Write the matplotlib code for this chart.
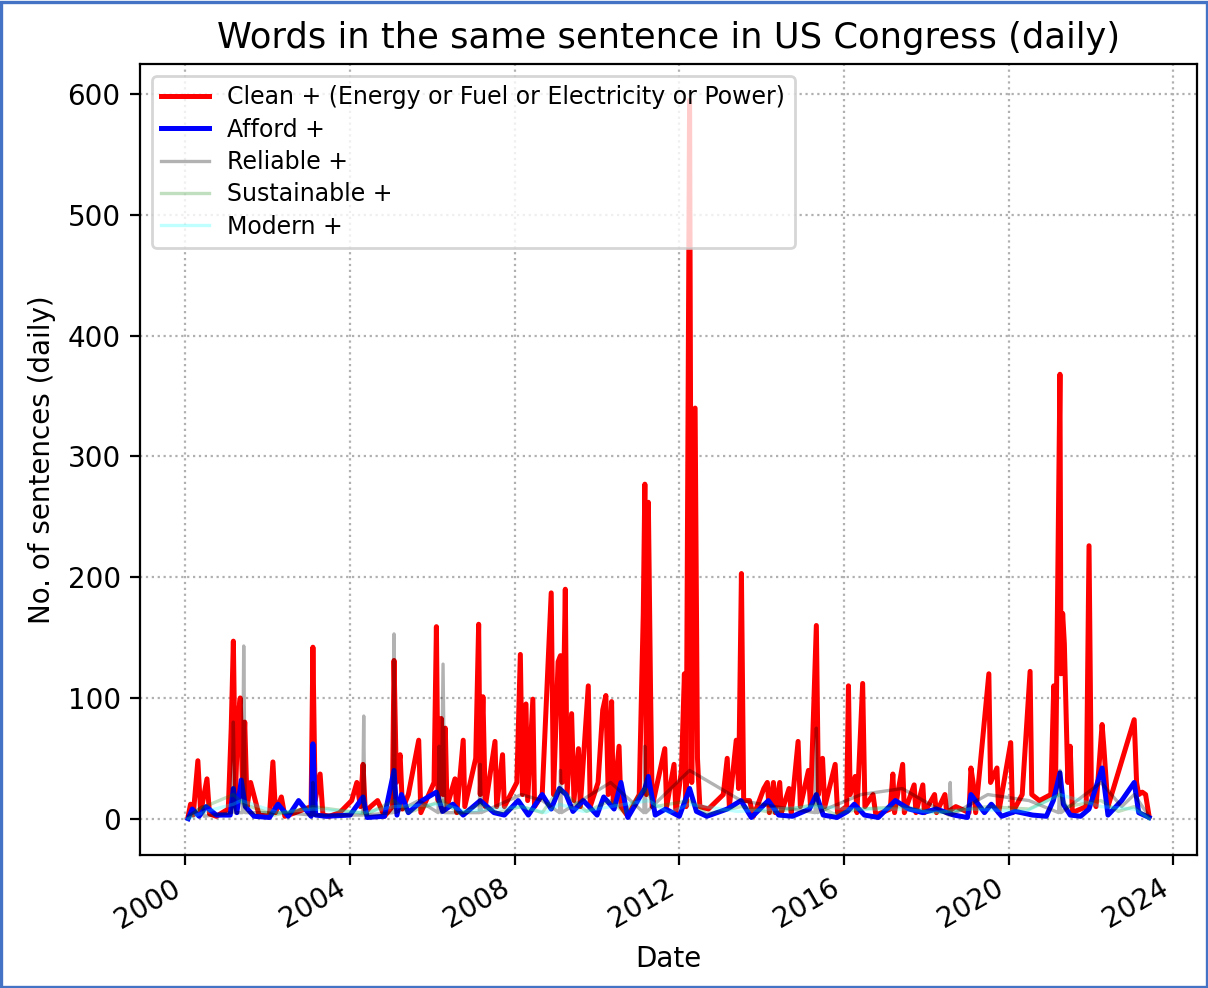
import matplotlib
matplotlib.use("Agg")
import matplotlib.pyplot as plt
import matplotlib.patches as patches
import pandas as pd

# Clean + (Energy or Fuel or Electricity or Power)
clean_dates = [
    "2000-01-25", "2000-02-15", "2000-03-10", "2000-04-20", "2000-05-15", "2000-07-10", "2000-08-01",
    "2000-10-01", "2001-01-15", "2001-02-10", "2001-03-01", "2001-03-20", "2001-04-10", "2001-05-01",
    "2001-05-20", "2001-06-10", "2001-07-01", "2001-08-01", "2001-10-15", "2002-01-15", "2002-02-15",
    "2002-03-10", "2002-05-01", "2002-06-01", "2002-09-01", "2003-01-20", "2003-02-05", "2003-02-25",
    "2003-04-10", "2003-05-05", "2003-07-01", "2003-10-01", "2004-01-15", "2004-03-01", "2004-04-01",
    "2004-04-25", "2004-05-15", "2004-07-01", "2004-09-01", "2004-11-01", "2005-01-10", "2005-01-25",
    "2005-02-15", "2005-03-20", "2005-04-10", "2005-06-01", "2005-09-01", "2005-09-20", "2006-01-15",
    "2006-02-05", "2006-02-20", "2006-03-20", "2006-04-05", "2006-04-25", "2006-05-10", "2006-07-20",
    "2006-08-05", "2006-10-01", "2006-10-15", "2007-01-20", "2007-02-15", "2007-03-01", "2007-03-25",
    "2007-04-15", "2007-07-10", "2007-07-25", "2007-09-15", "2007-10-01", "2008-01-20", "2008-02-20",
    "2008-03-10", "2008-04-10", "2008-04-25", "2008-06-10", "2008-06-25", "2008-09-01", "2008-11-20",
    "2008-12-10", "2009-01-20", "2009-02-10", "2009-02-25", "2009-03-25", "2009-04-10", "2009-05-20",
    "2009-06-10", "2009-07-20", "2009-08-05", "2009-10-15", "2009-11-01", "2010-01-10", "2010-02-20",
    "2010-03-20", "2010-04-10", "2010-05-10", "2010-05-25", "2010-07-15", "2010-08-01", "2010-10-01",
    "2011-01-10", "2011-02-15", "2011-03-01", "2011-03-15", "2011-04-01", "2011-04-20", "2011-05-05",
    "2011-08-25", "2011-09-10", "2011-11-15", "2011-12-01", "2012-01-20", "2012-02-15", "2012-03-01",
    "2012-04-01", "2012-04-20", "2012-05-20", "2012-06-10", "2012-07-01", "2012-09-15", "2013-01-25",
    "2013-03-01", "2013-03-20", "2013-05-20", "2013-06-10", "2013-07-05", "2013-07-25", "2013-09-15",
    "2013-10-20", "2014-01-20", "2014-02-20", "2014-03-10", "2014-04-15", "2014-05-01", "2014-06-10",
    "2014-06-25", "2014-09-01", "2014-09-20", "2014-11-20", "2014-12-10", "2015-02-20", "2015-03-10",
    "2015-05-01", "2015-05-20", "2015-06-25", "2015-07-15", "2015-10-15", "2015-11-05", "2016-01-25",
    "2016-02-10", "2016-02-25", "2016-04-10", "2016-04-25", "2016-06-15", "2016-07-05", "2016-09-15",
    "2016-10-10", "2017-02-15", "2017-03-10", "2017-03-25", "2017-06-05", "2017-06-20", "2017-09-15",
    "2017-10-01", "2017-12-01", "2017-12-15", "2018-03-15", "2018-04-01", "2018-06-15", "2018-07-01",
    "2018-09-20", "2019-01-15", "2019-02-01", "2019-02-20", "2019-03-15", "2019-07-10", "2019-07-25",
    "2019-09-20", "2019-10-05", "2020-01-20", "2020-02-05", "2020-05-01", "2020-07-10", "2020-07-25",
    "2020-10-01", "2021-01-10", "2021-02-05", "2021-02-20", "2021-04-01", "2021-04-10", "2021-04-25",
    "2021-05-10", "2021-05-25", "2021-06-10", "2021-07-01", "2021-07-20", "2021-11-20", "2021-12-15",
    "2022-01-05", "2022-02-15", "2022-04-10", "2022-04-25", "2022-06-01", "2023-01-20", "2023-02-10",
    "2023-03-01", "2023-04-01", "2023-05-01", "2023-06-01",
]
clean_vals = [
    2, 12, 3, 48, 5, 33, 4,
    2, 8, 75, 147, 20, 82, 100,
    30, 80, 10, 30, 3, 2, 47,
    5, 18, 2, 5, 10, 142, 15,
    37, 3, 2, 5, 15, 30, 10,
    45, 5, 10, 15, 2, 10, 131,
    30, 53, 8, 20, 65, 5, 30,
    159, 15, 83, 20, 75, 10, 33,
    5, 65, 10, 50, 161, 20, 101,
    10, 64, 10, 53, 10, 30, 136,
    20, 95, 15, 99, 10, 20, 187,
    20, 130, 135, 30, 190, 20, 87,
    15, 58, 10, 110, 10, 30, 90,
    102, 20, 97, 10, 60, 10, 2,
    20, 170, 277, 20, 262, 110, 10,
    58, 10, 45, 5, 40, 120, 10,
    595, 30, 340, 50, 10, 8, 20,
    50, 10, 65, 25, 203, 15, 15,
    2, 25, 30, 5, 30, 5, 30,
    5, 25, 5, 64, 10, 40, 10,
    160, 20, 50, 10, 45, 5, 10,
    110, 20, 35, 5, 112, 10, 20,
    3, 8, 37, 5, 45, 5, 28,
    5, 28, 5, 20, 5, 20, 5,
    10, 5, 42, 30, 5, 120, 30,
    42, 5, 63, 5, 20, 122, 20,
    15, 20, 110, 20, 368, 120, 170,
    145, 88, 30, 60, 5, 10, 226,
    20, 10, 78, 60, 10, 82, 30,
    20, 22, 20, 2,
]

# Afford +
afford_dates = [
    "2000-01-25", "2000-03-01", "2000-05-01", "2000-07-01", "2000-10-01", "2001-02-01", "2001-03-01",
    "2001-04-01", "2001-05-10", "2001-06-15", "2001-09-01", "2002-01-15", "2002-04-01", "2002-07-01",
    "2002-10-01", "2003-01-20", "2003-02-05", "2003-03-01", "2003-06-01", "2004-01-01", "2004-04-25",
    "2004-06-01", "2004-11-01", "2005-01-25", "2005-02-20", "2005-04-01", "2005-06-01", "2005-10-01",
    "2006-02-05", "2006-04-01", "2006-07-01", "2006-10-01", "2007-03-01", "2007-07-01", "2007-10-01",
    "2008-02-01", "2008-05-01", "2008-09-01", "2008-11-20", "2009-02-01", "2009-04-01", "2009-06-01",
    "2009-09-01", "2010-01-01", "2010-03-01", "2010-06-01", "2010-08-01", "2010-10-01", "2011-03-01",
    "2011-04-01", "2011-06-01", "2011-09-01", "2012-01-01", "2012-04-01", "2012-06-01", "2012-09-01",
    "2013-03-01", "2013-07-01", "2013-10-01", "2014-03-01", "2014-06-01", "2014-10-01", "2015-03-01",
    "2015-05-01", "2015-07-01", "2015-11-01", "2016-02-01", "2016-04-01", "2016-07-01", "2016-11-01",
    "2017-04-01", "2017-08-01", "2017-12-01", "2018-04-01", "2018-09-01", "2019-01-01", "2019-02-01",
    "2019-06-01", "2019-08-01", "2019-11-01", "2020-03-01", "2020-08-01", "2020-12-01", "2021-02-01",
    "2021-04-01", "2021-05-01", "2021-07-01", "2021-10-01", "2021-12-15", "2022-04-10", "2022-06-01",
    "2022-10-01", "2023-01-20", "2023-03-01", "2023-06-01",
]
afford_vals = [
    0, 8, 2, 10, 3, 3, 25,
    5, 32, 10, 2, 1, 12, 2,
    15, 2, 62, 3, 2, 3, 18,
    1, 2, 40, 3, 20, 5, 15,
    22, 6, 12, 3, 15, 5, 3,
    15, 3, 20, 8, 25, 20, 6,
    15, 3, 18, 8, 30, 1, 25,
    35, 3, 8, 2, 25, 6, 2,
    8, 15, 1, 15, 3, 2, 8,
    20, 3, 1, 6, 12, 3, 1,
    15, 8, 5, 8, 3, 1, 20,
    5, 12, 2, 6, 3, 2, 15,
    38, 12, 3, 2, 8, 42, 3,
    15, 30, 5, 1,
]

# Reliable +
reliable_dates = [
    "2000-01-25", "2000-06-01", "2000-06-15", "2001-02-15", "2001-03-01", "2001-03-15", "2001-05-20",
    "2001-06-01", "2001-06-15", "2002-06-01", "2003-01-25", "2003-02-05", "2003-02-15", "2004-04-20",
    "2004-05-01", "2004-05-10", "2005-01-15", "2005-01-25", "2005-02-05", "2005-09-01", "2006-02-20",
    "2006-03-01", "2006-03-20", "2006-04-05", "2006-04-20", "2007-02-20", "2007-03-01", "2007-03-10",
    "2008-03-01", "2008-09-01", "2009-02-01", "2009-02-10", "2009-02-20", "2010-05-01", "2011-02-20",
    "2011-03-01", "2011-03-10", "2012-04-01", "2013-07-01", "2014-05-01", "2015-04-20", "2015-05-01",
    "2015-05-10", "2016-06-01", "2017-06-01", "2018-07-20", "2018-08-01", "2018-08-10", "2019-07-01",
    "2020-07-01", "2021-03-20", "2021-04-01", "2021-04-10", "2022-04-01", "2022-10-01", "2023-01-20",
    "2023-06-01",
]
reliable_vals = [
    2, 10, 2, 5, 80, 5, 5,
    143, 5, 5, 3, 30, 3, 3,
    85, 3, 5, 153, 5, 15, 5,
    60, 5, 128, 5, 5, 45, 5,
    20, 15, 5, 40, 5, 30, 5,
    60, 5, 40, 15, 10, 5, 75,
    5, 20, 25, 3, 30, 3, 20,
    15, 5, 40, 5, 30, 10, 20,
    2,
]

# Sustainable +
sustain_dates = [
    "2000-01-25", "2000-05-01", "2001-03-01", "2001-06-01", "2002-03-01", "2003-02-05", "2004-06-01",
    "2005-01-25", "2005-06-01", "2006-04-01", "2006-09-01", "2007-03-01", "2007-08-01", "2008-03-01",
    "2008-09-01", "2009-02-01", "2009-06-01", "2009-10-01", "2010-05-01", "2010-09-01", "2011-03-01",
    "2011-06-01", "2012-04-01", "2012-09-01", "2013-07-01", "2014-04-01", "2015-05-01", "2015-10-01",
    "2016-06-01", "2017-06-01", "2018-05-01", "2019-07-01", "2020-07-01", "2021-04-01", "2021-06-01",
    "2022-04-01", "2022-09-01", "2023-01-20", "2023-06-01",
]
sustain_vals = [
    0, 8, 20, 12, 3, 10, 4,
    15, 5, 15, 4, 12, 5, 10,
    5, 25, 15, 6, 15, 5, 25,
    10, 15, 4, 10, 5, 12, 4,
    8, 10, 5, 10, 8, 20, 10,
    15, 6, 10, 0,
]

# Modern +
modern_dates = [
    "2000-01-25", "2000-07-01", "2001-03-01", "2001-05-10", "2002-04-01", "2003-02-05", "2004-05-01",
    "2005-01-25", "2006-04-01", "2006-11-01", "2007-06-01", "2008-03-01", "2008-10-01", "2009-02-01",
    "2009-09-01", "2010-05-01", "2011-04-01", "2011-10-01", "2012-04-01", "2013-06-01", "2014-05-01",
    "2015-05-01", "2016-04-01", "2017-06-01", "2018-03-01", "2019-02-01", "2020-06-01", "2021-04-01",
    "2022-04-01", "2023-01-20", "2023-06-01",
]
modern_vals = [
    0, 6, 12, 15, 5, 8, 5,
    10, 12, 6, 8, 10, 5, 12,
    6, 10, 15, 5, 12, 6, 8,
    10, 8, 8, 5, 8, 6, 20,
    10, 8, 0,
]

fig = plt.figure(figsize=(6.04, 4.94), dpi=200)
ax = fig.add_axes([0.116, 0.135, 0.875, 0.8])

ax.plot(pd.to_datetime(clean_dates), clean_vals, color="red", lw=1.8,
        label="Clean + (Energy or Fuel or Electricity or Power)")
ax.plot(pd.to_datetime(afford_dates), afford_vals, color="blue", lw=1.8, label="Afford +")
ax.plot(pd.to_datetime(reliable_dates), reliable_vals, color="k", alpha=0.3, lw=1.2, label="Reliable +")
ax.plot(pd.to_datetime(sustain_dates), sustain_vals, color="green", alpha=0.25, lw=1.2, label="Sustainable +")
ax.plot(pd.to_datetime(modern_dates), modern_vals, color="cyan", alpha=0.25, lw=1.2, label="Modern +")

ax.grid(linestyle=":")
ax.set_title("Words in the same sentence in US Congress (daily)", fontsize=12.7)
ax.set_xlabel("Date")
ax.set_ylabel("No. of sentences (daily)")
ax.legend(loc="upper left", fontsize=8.5, labelspacing=0.35)
for lbl in ax.get_xticklabels():
    lbl.set_rotation(30)
    lbl.set_ha("right")

# blue frame of the screenshot
fig.patches.append(patches.Rectangle((0.001, 0.001), 0.998, 0.997, transform=fig.transFigure,
                                     fill=False, edgecolor="#4472C4", lw=1.2))

plt.savefig("out.png", dpi=200)
